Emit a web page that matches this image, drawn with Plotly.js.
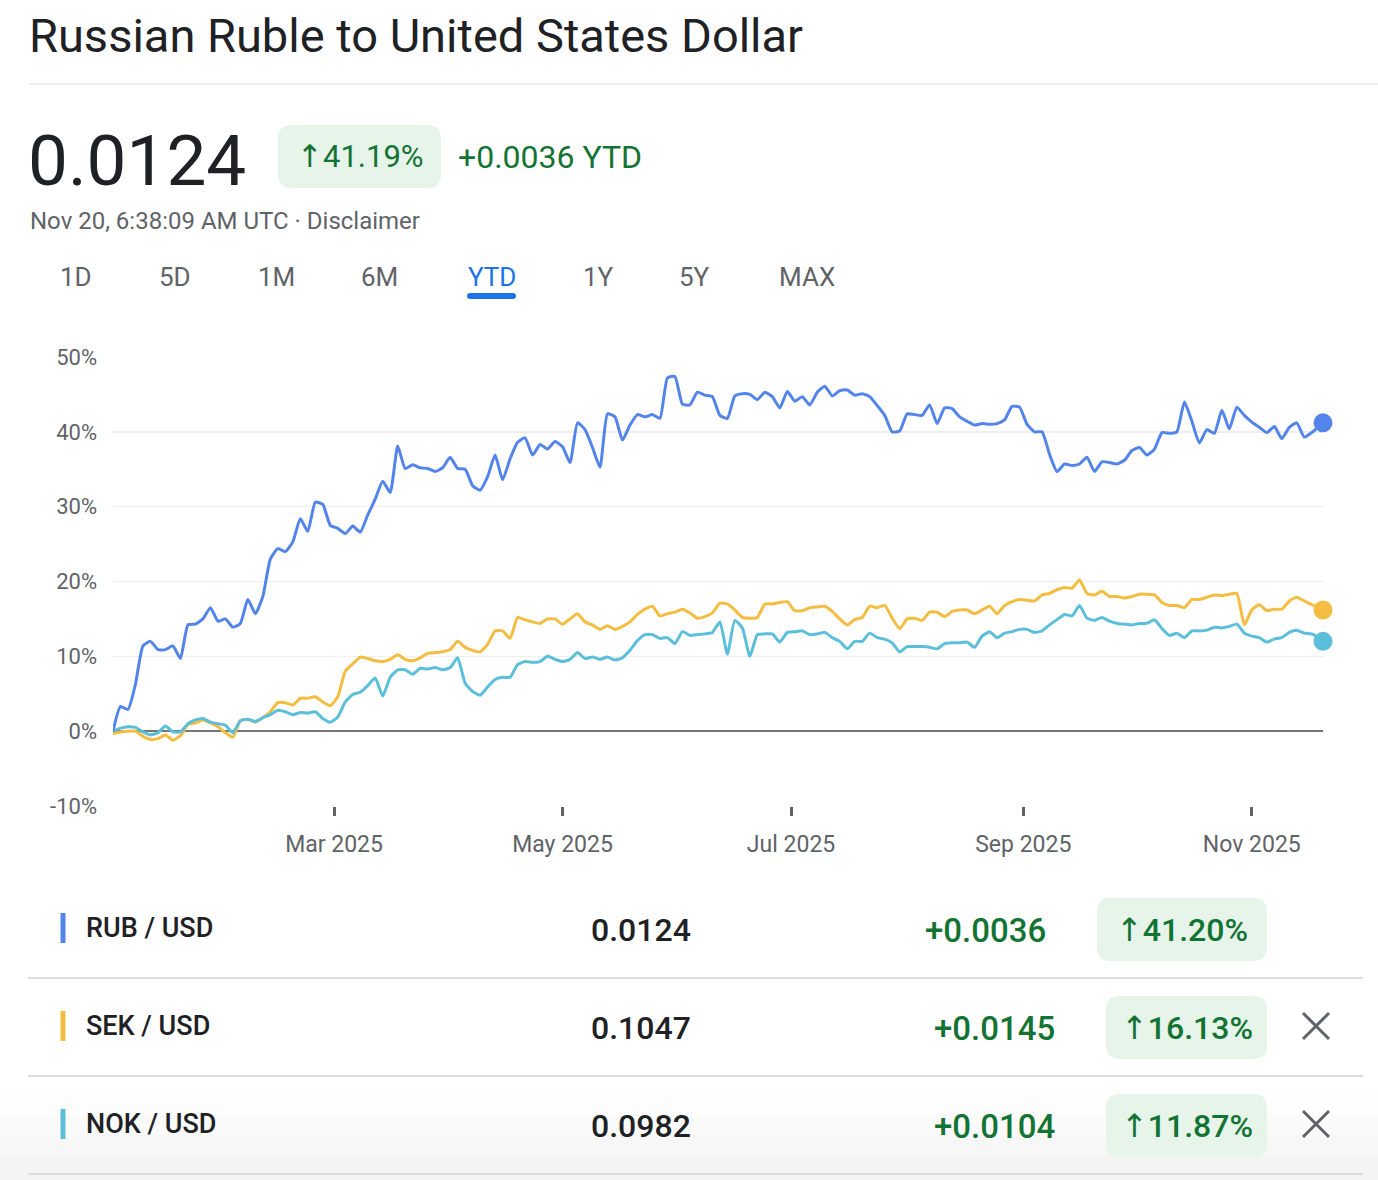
<!DOCTYPE html>
<html>
<head>
<meta charset="utf-8">
<script src="https://cdn.plot.ly/plotly-3.0.1.min.js"></script>
<style>
  html, body { margin: 0; padding: 0; background: #ffffff; }
  #chart { width: 1378px; height: 1180px; }
</style>
</head>
<body>
<div id="chart"></div>
<script>
// ---------------- DATA ----------------
const dates = [
  "2025-01-01","2025-01-03","2025-01-05","2025-01-07","2025-01-09","2025-01-11","2025-01-13","2025-01-15","2025-01-17","2025-01-19","2025-01-21","2025-01-23","2025-01-25","2025-01-27","2025-01-29","2025-01-31",
  "2025-02-02","2025-02-04","2025-02-06","2025-02-08","2025-02-10","2025-02-12","2025-02-14","2025-02-16","2025-02-18","2025-02-20","2025-02-22","2025-02-24","2025-02-26","2025-02-28",
  "2025-03-02","2025-03-04","2025-03-06","2025-03-08","2025-03-10","2025-03-12","2025-03-14","2025-03-16","2025-03-18","2025-03-20","2025-03-22","2025-03-24","2025-03-26","2025-03-28","2025-03-30",
  "2025-04-01","2025-04-03","2025-04-05","2025-04-07","2025-04-09","2025-04-11","2025-04-13","2025-04-15","2025-04-17","2025-04-19","2025-04-21","2025-04-23","2025-04-25","2025-04-27","2025-04-29",
  "2025-05-01","2025-05-03","2025-05-05","2025-05-07","2025-05-09","2025-05-11","2025-05-13","2025-05-15","2025-05-17","2025-05-19","2025-05-21","2025-05-23","2025-05-25","2025-05-27","2025-05-29","2025-05-31",
  "2025-06-02","2025-06-04","2025-06-06","2025-06-08","2025-06-10","2025-06-12","2025-06-14","2025-06-16","2025-06-18","2025-06-20","2025-06-22","2025-06-24","2025-06-26","2025-06-28","2025-06-30",
  "2025-07-02","2025-07-04","2025-07-06","2025-07-08","2025-07-10","2025-07-12","2025-07-14","2025-07-16","2025-07-18","2025-07-20","2025-07-22","2025-07-24","2025-07-26","2025-07-28","2025-07-30",
  "2025-08-01","2025-08-03","2025-08-05","2025-08-07","2025-08-09","2025-08-11","2025-08-13","2025-08-15","2025-08-17","2025-08-19","2025-08-21","2025-08-23","2025-08-25","2025-08-27","2025-08-29","2025-08-31",
  "2025-09-02","2025-09-04","2025-09-06","2025-09-08","2025-09-10","2025-09-12","2025-09-14","2025-09-16","2025-09-18","2025-09-20","2025-09-22","2025-09-24","2025-09-26","2025-09-28","2025-09-30",
  "2025-10-02","2025-10-04","2025-10-06","2025-10-08","2025-10-10","2025-10-12","2025-10-14","2025-10-16","2025-10-18","2025-10-20","2025-10-22","2025-10-24","2025-10-26","2025-10-28","2025-10-30",
  "2025-11-01","2025-11-03","2025-11-05","2025-11-07","2025-11-09","2025-11-11","2025-11-13","2025-11-15","2025-11-17","2025-11-19","2025-11-20"
];

// YTD % change, RUB / USD
const rubPct = [
  0.0, 3.3, 2.9, 6.3, 11.4, 12.0, 10.9, 10.9, 11.4, 9.7, 14.2, 14.3, 15.0, 16.5, 14.7, 15.0,
  13.9, 14.4, 17.6, 15.7, 18.0, 23.0, 24.4, 24.0, 25.3, 28.4, 26.7, 30.6, 30.3, 27.5,
  27.1, 26.4, 27.4, 26.6, 28.9, 31.0, 33.4, 31.9, 38.1, 35.1, 35.6, 35.2, 35.1, 34.7, 35.2,
  36.6, 35.1, 35.0, 32.8, 32.2, 34.0, 36.9, 33.6, 36.4, 38.6, 39.2, 36.9, 38.3, 37.7, 38.7,
  38.0, 35.9, 41.2, 40.3, 37.9, 35.3, 42.4, 42.0, 38.9, 40.9, 42.3, 42.0, 42.3, 41.8, 47.2, 47.4,
  43.7, 43.6, 45.3, 44.9, 44.7, 42.2, 41.8, 44.8, 45.1, 45.0, 44.3, 45.3, 44.7, 43.2, 45.4,
  44.1, 44.7, 43.6, 45.3, 46.1, 44.8, 45.5, 45.6, 44.9, 45.1, 44.7, 43.5, 42.2, 40.0, 40.1,
  42.4, 42.3, 42.2, 43.6, 41.1, 43.2, 43.1, 42.0, 41.4, 40.9, 41.1, 41.0, 41.1, 41.6, 43.4, 43.3,
  41.0, 40.0, 40.0, 37.0, 34.7, 35.7, 35.5, 35.7, 36.6, 34.7, 36.0, 35.9, 35.7, 36.2, 37.5,
  37.9, 36.9, 37.7, 39.9, 39.8, 40.0, 44.0, 41.4, 38.5, 40.3, 39.8, 42.9, 40.4, 43.3, 42.2,
  41.3, 40.6, 39.9, 40.7, 39.1, 40.6, 41.2, 39.3, 39.9, 40.8, 41.2
];

// YTD % change, SEK / USD
const sekPct = [
  -0.3, -0.1, 0.0, 0.0, -0.7, -1.1, -1.0, -0.5, -1.2, -0.6, 0.9, 1.1, 1.5, 1.1, 0.6, -0.2,
  -0.8, 1.4, 1.6, 1.2, 1.8, 2.6, 3.8, 3.8, 3.5, 4.4, 4.4, 4.6, 3.9, 3.4,
  4.6, 8.0, 9.0, 9.9, 9.7, 9.4, 9.3, 9.6, 10.2, 9.6, 9.4, 9.8, 10.4, 10.5, 10.6,
  10.9, 12.0, 11.2, 10.8, 10.6, 11.6, 13.4, 13.4, 12.4, 15.2, 14.9, 14.6, 14.4, 15.0, 15.0,
  14.3, 15.0, 15.7, 14.6, 14.2, 13.6, 14.1, 13.6, 14.0, 14.6, 15.6, 16.3, 16.7, 15.4, 15.7, 15.9,
  16.3, 15.8, 15.1, 15.3, 15.8, 17.1, 17.0, 16.2, 15.2, 15.1, 15.2, 17.0, 17.0, 17.2, 17.3,
  16.1, 16.1, 16.5, 16.6, 16.7, 16.0, 15.0, 14.2, 14.9, 15.2, 16.7, 16.5, 16.8, 15.1, 13.7,
  15.0, 15.1, 14.8, 15.9, 15.9, 15.3, 16.0, 16.2, 16.2, 15.7, 16.2, 16.7, 15.7, 16.8, 17.3, 17.6,
  17.5, 17.4, 18.2, 18.4, 18.9, 19.2, 19.1, 20.2, 18.4, 18.2, 18.7, 18.0, 18.0, 17.8, 18.0,
  18.3, 18.3, 18.2, 17.2, 16.8, 16.8, 16.5, 17.6, 17.6, 17.9, 18.2, 18.1, 18.3, 18.4, 14.2,
  16.2, 16.9, 16.1, 16.3, 16.3, 17.4, 17.9, 17.4, 16.9, 16.4, 16.2
];

// YTD % change, NOK / USD
const nokPct = [
  0.0, 0.4, 0.6, 0.5, -0.1, -0.5, -0.2, 0.7, -0.1, -0.1, 1.0, 1.5, 1.7, 1.2, 1.0, 0.8,
  -0.2, 1.4, 1.6, 1.3, 1.8, 2.2, 2.8, 2.6, 2.2, 2.5, 2.4, 2.6, 1.7, 1.2,
  1.9, 3.9, 4.9, 5.2, 6.1, 7.1, 4.7, 7.2, 8.2, 8.2, 7.6, 8.4, 8.3, 8.5, 8.2,
  8.5, 9.8, 6.4, 5.3, 4.8, 5.9, 6.9, 7.2, 7.2, 8.9, 9.3, 9.2, 9.3, 10.0, 9.6,
  9.3, 9.6, 10.5, 9.7, 9.9, 9.6, 9.9, 9.5, 9.8, 10.8, 12.1, 12.9, 12.9, 12.4, 12.5, 11.7,
  13.3, 12.8, 12.9, 13.0, 13.2, 14.6, 10.3, 14.8, 13.8, 10.0, 12.9, 13.0, 13.0, 11.9, 13.2,
  13.3, 13.4, 12.9, 13.0, 13.2, 12.5, 12.0, 11.0, 12.0, 12.0, 13.1, 12.5, 12.3, 11.8, 10.6,
  11.3, 11.3, 11.3, 11.2, 11.0, 11.7, 11.8, 11.8, 11.9, 11.2, 12.7, 13.3, 12.5, 13.1, 13.3, 13.6,
  13.6, 13.2, 13.4, 14.2, 14.9, 15.6, 15.4, 16.8, 15.1, 14.8, 15.2, 14.7, 14.4, 14.3, 14.2,
  14.4, 14.4, 14.9, 13.7, 12.8, 13.1, 12.5, 13.4, 13.4, 13.5, 13.9, 13.8, 14.0, 14.3, 13.1,
  12.7, 12.5, 11.9, 12.3, 12.5, 13.2, 13.5, 13.1, 13.0, 12.4, 12.0
];

const xTickDates = ["2025-03-01", "2025-05-01", "2025-07-01", "2025-09-01", "2025-11-01"];
const xTickLabels = ["Mar 2025", "May 2025", "Jul 2025", "Sep 2025", "Nov 2025"];
const yTickVals = [-10, 0, 10, 20, 30, 40, 50];
const yTickLabels = ["-10%", "0%", "10%", "20%", "30%", "40%", "50%"];

const titleText = "Russian Ruble to United States Dollar";
const headPrice = "0.0124";
const headPct = "↑41.19%";
const headChange = "+0.0036 YTD";
const headStamp = "Nov 20, 6:38:09 AM UTC · Disclaimer";
const rangeTabs = ["1D", "5D", "1M", "6M", "YTD", "1Y", "5Y", "MAX"];
const activeTab = "YTD";

const pairNames = ["RUB / USD", "SEK / USD", "NOK / USD"];
const pairPrices = ["0.0124", "0.1047", "0.0982"];
const pairChanges = ["+0.0036", "+0.0145", "+0.0104"];
const pairPcts = ["↑41.20%", "↑16.13%", "↑11.87%"];
const pairRemovable = [false, true, true];

// ---------------- STYLE / GEOMETRY ----------------
const FONT = 'Roboto, "Noto Sans", "DejaVu Sans", sans-serif';
const BLUE = "#5284ec", YELLOW = "#f4bd41", CYAN = "#5bbfdb";
const pairColors = [BLUE, YELLOW, CYAN];
const GREEN = "#137333", BADGE = "#e6f4ea", GREY = "#5f6368", INK = "#202124";

const W = 1378, H = 1180;
const ML = 113, MT = 357, MR = W - 1323, MB = H - 806;
const PW = W - ML - MR, PH = H - MT - MB;
const fx = x => (x - ML) / PW;
const fy = y => 1 - (y - MT) / PH;

function roundRect(x0, y0, x1, y1, r, color) {
  const p = [
    "M", fx(x0 + r), fy(y0),
    "L", fx(x1 - r), fy(y0),
    "Q", fx(x1), fy(y0), fx(x1), fy(y0 + r),
    "L", fx(x1), fy(y1 - r),
    "Q", fx(x1), fy(y1), fx(x1 - r), fy(y1),
    "L", fx(x0 + r), fy(y1),
    "Q", fx(x0), fy(y1), fx(x0), fy(y1 - r),
    "L", fx(x0), fy(y0 + r),
    "Q", fx(x0), fy(y0), fx(x0 + r), fy(y0),
    "Z"
  ];
  let out = "", nums = [];
  for (const v of p) {
    if (typeof v === "string") {
      if (nums.length) { for (let k = 0; k < nums.length; k += 2) out += nums[k].toFixed(5) + "," + nums[k + 1].toFixed(5) + " "; nums = []; }
      out += v + " ";
    } else nums.push(v);
  }
  if (nums.length) for (let k = 0; k < nums.length; k += 2) out += nums[k].toFixed(5) + "," + nums[k + 1].toFixed(5) + " ";
  return { type: "path", xref: "paper", yref: "paper", path: out.trim(), fillcolor: color, line: { width: 0 }, layer: "below" };
}
function hline(x0, x1, y, color, w) {
  return { type: "line", xref: "paper", yref: "paper", x0: fx(x0), x1: fx(x1), y0: fy(y), y1: fy(y), line: { color: color, width: w } };
}
function seg(x0, y0, x1, y1, color, w) {
  return { type: "line", xref: "paper", yref: "paper", x0: fx(x0), x1: fx(x1), y0: fy(y0), y1: fy(y1), line: { color: color, width: w } };
}
function rect(x0, y0, x1, y1, color) {
  return { type: "rect", xref: "paper", yref: "paper", x0: fx(x0), x1: fx(x1), y0: fy(y1), y1: fy(y0), fillcolor: color, line: { width: 0 }, layer: "below" };
}
function label(text, x, y, size, color, xanchor, weight) {
  return { text: text, xref: "paper", yref: "paper", x: fx(x), y: fy(y), xanchor: xanchor || "left", yanchor: "middle",
           showarrow: false, font: { family: FONT, size: size, color: color, weight: weight || 400 } };
}

// ---------------- TRACES ----------------
const n = dates.length;
const lineStyle = c => ({ color: c, width: 3, shape: "spline", smoothing: 0.5 });
const traces = [
  { type: "scatter", mode: "lines", x: dates, y: sekPct, line: lineStyle(YELLOW), hoverinfo: "skip" },
  { type: "scatter", mode: "lines", x: dates, y: nokPct, line: lineStyle(CYAN), hoverinfo: "skip" },
  { type: "scatter", mode: "lines", x: dates, y: rubPct, line: lineStyle(BLUE), hoverinfo: "skip" },
  { type: "scatter", mode: "markers", x: [dates[n - 1]], y: [sekPct[n - 1]], marker: { size: 19, color: YELLOW }, cliponaxis: false, hoverinfo: "skip" },
  { type: "scatter", mode: "markers", x: [dates[n - 1]], y: [nokPct[n - 1]], marker: { size: 19, color: CYAN }, cliponaxis: false, hoverinfo: "skip" },
  { type: "scatter", mode: "markers", x: [dates[n - 1]], y: [rubPct[n - 1]], marker: { size: 19, color: BLUE }, cliponaxis: false, hoverinfo: "skip" }
];

// ---------------- HEADER / TABLE ----------------
const shapes = [];
const annotations = [];

shapes.push(hline(29, 1378, 84, "#dadce0", 1));

annotations.push(label(headPrice, 26, 160, 71, INK, "left"));
shapes.push(roundRect(278, 125, 441, 188, 14, BADGE));
annotations.push(label(headPct, 360, 157, 31, GREEN, "center"));
annotations.push(label(headChange, 456, 157, 32, GREEN, "left"));
annotations.push(label(headStamp, 28, 221, 24, GREY, "left"));

const tabCenters = [76, 175, 276, 379, 492, 598, 694, 807];
rangeTabs.forEach((t, i) => {
  annotations.push(label(t, tabCenters[i], 277, 26, t === activeTab ? "#1a73e8" : GREY, "center"));
});
shapes.push(roundRect(467, 293, 516, 299, 3, "#1a73e8"));

// table rows
const rowY = [928, 1026, 1124];
const badgeLeft = [1097, 1106, 1106];
const badgeRight = 1267;

// subtle fade behind last row
shapes.push(rect(0, 1095, 1378, 1115, "#fdfdfd"));
shapes.push(rect(0, 1115, 1378, 1135, "#fafafa"));
shapes.push(rect(0, 1135, 1378, 1155, "#f7f7f7"));
shapes.push(rect(0, 1155, 1378, 1180, "#f4f4f4"));

pairNames.forEach((name, i) => {
  const y = rowY[i];
  shapes.push(seg(63, y - 15, 63, y + 15, pairColors[i], 5));
  annotations.push(label(name, 84, y, 27, INK, "left", 500));
  annotations.push(label(pairPrices[i], 641, y + 2, 32, INK, "center", 500));
  annotations.push(label(pairChanges[i], badgeLeft[i] - 49, y + 2, 33, GREEN, "right", 500));
  shapes.push(roundRect(badgeLeft[i], y - 30, badgeRight, y + 33, 14, BADGE));
  annotations.push(label(pairPcts[i], (badgeLeft[i] + badgeRight) / 2, y + 2, 32, GREEN, "center", 500));
  if (pairRemovable[i]) {
    shapes.push(seg(1303, y - 13, 1329, y + 13, GREY, 3));
    shapes.push(seg(1329, y - 13, 1303, y + 13, GREY, 3));
  }
  shapes.push(hline(28, 1363, y + 50, "#dadce0", 2));
});

// ---------------- LAYOUT ----------------
const layout = {
  width: W, height: H,
  margin: { l: ML, r: MR, t: MT, b: MB, pad: 0 },
  paper_bgcolor: "#ffffff", plot_bgcolor: "#ffffff",
  showlegend: false, hovermode: false,
  title: {
    text: titleText, xref: "container", yref: "container",
    x: 29 / W, xanchor: "left", y: 1 - 36 / H, yanchor: "middle",
    font: { family: FONT, size: 47, color: INK }
  },
  xaxis: {
    type: "date", range: [dates[0], dates[n - 1]],
    tickmode: "array", tickvals: xTickDates, ticktext: xTickLabels,
    ticks: "outside", ticklen: 9, tickwidth: 3, tickcolor: GREY,
    showgrid: false, zeroline: false, showline: false,
    tickfont: { family: FONT, size: 23, color: GREY },
    ticklabelstandoff: 8, fixedrange: true
  },
  yaxis: {
    range: [-10, 50], tickmode: "array", tickvals: yTickVals, ticktext: yTickLabels,
    ticks: "", showgrid: true, gridcolor: "#eeeeee", gridwidth: 1.5,
    zeroline: true, zerolinecolor: "#757575", zerolinewidth: 1.5, showline: false,
    tickfont: { family: FONT, size: 22, color: GREY },
    ticklabelstandoff: 15, fixedrange: true
  },
  shapes: shapes,
  annotations: annotations
};

Plotly.newPlot("chart", traces, layout, { staticPlot: true, displayModeBar: false });
</script>
</body>
</html>
